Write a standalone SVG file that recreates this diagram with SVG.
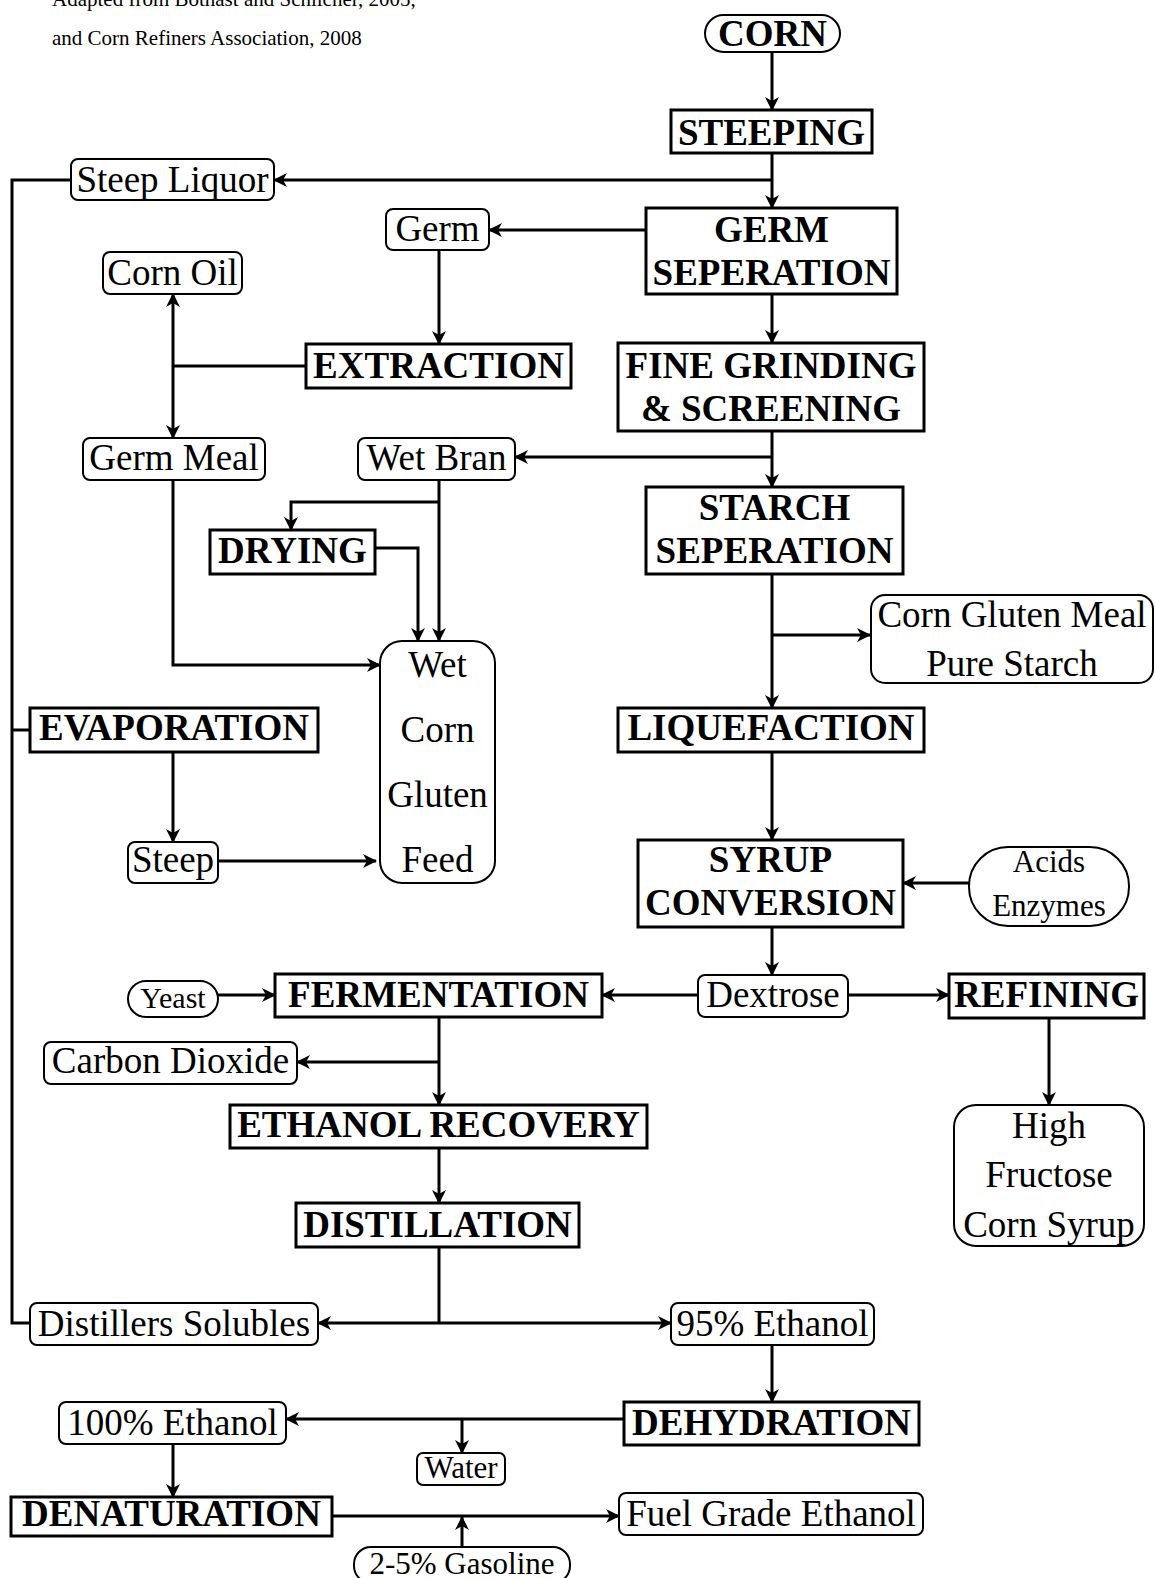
<svg xmlns="http://www.w3.org/2000/svg" width="1155" height="1578" viewBox="0 0 1155 1578">
<style>
text{font-family:"Liberation Serif","Times New Roman",serif;fill:#000;text-anchor:middle}
.b{font-size:37px;font-weight:bold}
.r{font-size:37px}
.s{font-size:31px}
.h{font-size:21px;text-anchor:start}
.proc{fill:#fff;stroke:#000;stroke-width:3}
.term{fill:#fff;stroke:#000;stroke-width:2}
.ln{fill:none;stroke:#000;stroke-width:3}
.a{marker-end:url(#arr)}
</style>
<defs>
<marker id="arr" markerUnits="userSpaceOnUse" markerWidth="14" markerHeight="14" refX="13" refY="7" orient="auto">
<path d="M0,0 L14,7 L0,14 L4,7 Z" fill="#000"/>
</marker>
</defs>
<rect width="1155" height="1578" fill="#fff"/>
<g id="header">
<text class="h" x="52" y="6">Adapted from Bothast and Schlicher, 2005,</text>
<text class="h" x="52" y="45">and Corn Refiners Association, 2008</text>
</g>
<g id="connectors">
<path class="ln a" d="M772,52 V110"/>
<path class="ln a" d="M772,153 V208"/>
<path class="ln a" d="M772,180 H274"/>
<path class="ln" d="M71,180 H12 V1323 H30"/>
<path class="ln" d="M12,730 H30"/>
<path class="ln a" d="M646,230 H489"/>
<path class="ln a" d="M439,250 V344"/>
<path class="ln" d="M306,366 H173"/>
<path class="ln a" d="M173,366 V294"/>
<path class="ln a" d="M173,366 V438"/>
<path class="ln a" d="M772,294 V343"/>
<path class="ln a" d="M772,431 V487"/>
<path class="ln a" d="M772,457 H515"/>
<path class="ln a" d="M439,480 V641"/>
<path class="ln a" d="M439,502 H291 V530"/>
<path class="ln a" d="M375,548 H418 V641"/>
<path class="ln a" d="M173,480 V665 H380"/>
<path class="ln a" d="M173,752 V842"/>
<path class="ln a" d="M218,861 H376"/>
<path class="ln a" d="M772,574 V708"/>
<path class="ln a" d="M772,635 H870"/>
<path class="ln a" d="M772,752 V840"/>
<path class="ln a" d="M969,883 H903"/>
<path class="ln a" d="M772,927 V975"/>
<path class="ln a" d="M698,995 H602"/>
<path class="ln a" d="M848,995 H949"/>
<path class="ln a" d="M1049,1018 V1105"/>
<path class="ln a" d="M218,995 H275"/>
<path class="ln a" d="M439,1017 V1105"/>
<path class="ln a" d="M439,1062 H297"/>
<path class="ln a" d="M439,1148 V1203"/>
<path class="ln" d="M439,1247 V1323"/>
<path class="ln a" d="M439,1323 H318"/>
<path class="ln a" d="M439,1323 H671"/>
<path class="ln a" d="M772,1345 V1402"/>
<path class="ln a" d="M624,1419 H286"/>
<path class="ln a" d="M462,1419 V1453"/>
<path class="ln a" d="M173,1444 V1497"/>
<path class="ln a" d="M332,1516 H619"/>
<path class="ln a" d="M462,1547 V1517"/>
</g>
<g id="corn"><rect class="term" x="705" y="15" width="135" height="37" rx="18.5"/><text class="b" x="772.5" y="46">CORN</text></g>
<g id="steeping"><rect class="proc" x="671" y="110" width="201" height="43"/><text class="b" x="771.5" y="145">STEEPING</text></g>
<g id="steep-liquor"><rect class="term" x="71" y="159" width="203" height="41" rx="7"/><text class="r" x="172.5" y="192">Steep Liquor</text></g>
<g id="germ-separation"><rect class="proc" x="646" y="208" width="251" height="86"/><text class="b" x="771.5" y="242">GERM</text><text class="b" x="771.5" y="285">SEPERATION</text></g>
<g id="germ"><rect class="term" x="386" y="209" width="103" height="41" rx="7"/><text class="r" x="437.5" y="241">Germ</text></g>
<g id="corn-oil"><rect class="term" x="103" y="252" width="139" height="42" rx="7"/><text class="r" x="172.5" y="285">Corn Oil</text></g>
<g id="extraction"><rect class="proc" x="306" y="344" width="265" height="44"/><text class="b" x="438.5" y="378">EXTRACTION</text></g>
<g id="fine-grinding"><rect class="proc" x="618" y="343" width="306" height="88"/><text class="b" x="771" y="378">FINE GRINDING</text><text class="b" x="771" y="421">&amp; SCREENING</text></g>
<g id="germ-meal"><rect class="term" x="83" y="438" width="182" height="42" rx="7"/><text class="r" x="174" y="470">Germ Meal</text></g>
<g id="wet-bran"><rect class="term" x="358" y="438" width="157" height="42" rx="7"/><text class="r" x="436.5" y="470">Wet Bran</text></g>
<g id="starch-separation"><rect class="proc" x="646" y="487" width="257" height="87"/><text class="b" x="774.5" y="520">STARCH</text><text class="b" x="774.5" y="563">SEPERATION</text></g>
<g id="drying"><rect class="proc" x="210" y="530" width="165" height="44"/><text class="b" x="292.5" y="563">DRYING</text></g>
<g id="wet-corn-gluten-feed"><rect class="term" x="380" y="641" width="115" height="242" rx="22"/><text class="r" x="437.5" y="677">Wet</text><text class="r" x="437.5" y="742">Corn</text><text class="r" x="437.5" y="807">Gluten</text><text class="r" x="437.5" y="872">Feed</text></g>
<g id="corn-gluten-meal"><rect class="term" x="871" y="595" width="282" height="88" rx="14"/><text class="r" x="1012" y="627">Corn Gluten Meal</text><text class="r" x="1012" y="676">Pure Starch</text></g>
<g id="evaporation"><rect class="proc" x="30" y="708" width="288" height="44"/><text class="b" x="174" y="740">EVAPORATION</text></g>
<g id="steep"><rect class="term" x="128" y="842" width="90" height="41" rx="7"/><text class="r" x="173" y="872">Steep</text></g>
<g id="liquefaction"><rect class="proc" x="618" y="708" width="306" height="44"/><text class="b" x="771" y="740">LIQUEFACTION</text></g>
<g id="syrup-conversion"><rect class="proc" x="638" y="840" width="265" height="87"/><text class="b" x="770.5" y="872">SYRUP</text><text class="b" x="770.5" y="915">CONVERSION</text></g>
<g id="acids-enzymes"><rect class="term" x="969" y="847" width="160" height="79" rx="39"/><text class="s" x="1049" y="872">Acids</text><text class="s" x="1049" y="916">Enzymes</text></g>
<g id="yeast"><rect class="term" x="128" y="981" width="90" height="36" rx="18"/><text class="s" x="173" y="1008" style="font-size:30px">Yeast</text></g>
<g id="fermentation"><rect class="proc" x="275" y="974" width="327" height="43"/><text class="b" x="438.5" y="1007">FERMENTATION</text></g>
<g id="dextrose"><rect class="term" x="698" y="975" width="150" height="42" rx="7"/><text class="r" x="773" y="1007">Dextrose</text></g>
<g id="refining"><rect class="proc" x="949" y="974" width="195" height="44"/><text class="b" x="1046.5" y="1007">REFINING</text></g>
<g id="carbon-dioxide"><rect class="term" x="44" y="1042" width="253" height="42" rx="7"/><text class="r" x="170.5" y="1073">Carbon Dioxide</text></g>
<g id="ethanol-recovery"><rect class="proc" x="230" y="1105" width="417" height="43"/><text class="b" x="438.5" y="1137">ETHANOL RECOVERY</text></g>
<g id="hfcs"><rect class="term" x="954" y="1105" width="190" height="141" rx="22"/><text class="r" x="1049" y="1138">High</text><text class="r" x="1049" y="1187">Fructose</text><text class="r" x="1049" y="1237">Corn Syrup</text></g>
<g id="distillation"><rect class="proc" x="296" y="1203" width="283" height="44"/><text class="b" x="437.5" y="1237">DISTILLATION</text></g>
<g id="distillers-solubles"><rect class="term" x="30" y="1303" width="288" height="42" rx="7"/><text class="r" x="174" y="1336">Distillers Solubles</text></g>
<g id="ethanol-95"><rect class="term" x="671" y="1303" width="203" height="42" rx="7"/><text class="r" x="772.5" y="1336">95% Ethanol</text></g>
<g id="dehydration"><rect class="proc" x="624" y="1402" width="295" height="43"/><text class="b" x="771.5" y="1435">DEHYDRATION</text></g>
<g id="ethanol-100"><rect class="term" x="59" y="1402" width="227" height="42" rx="7"/><text class="r" x="172.5" y="1435">100% Ethanol</text></g>
<g id="water"><rect class="term" x="417" y="1453" width="88" height="32" rx="6"/><text class="s" x="461" y="1478">Water</text></g>
<g id="denaturation"><rect class="proc" x="11" y="1497" width="321" height="39"/><text class="b" x="171.5" y="1526">DENATURATION</text></g>
<g id="fuel-grade-ethanol"><rect class="term" x="619" y="1493" width="304" height="42" rx="7"/><text class="r" x="771" y="1526">Fuel Grade Ethanol</text></g>
<g id="gasoline"><rect class="term" x="354" y="1547" width="216" height="36" rx="17"/><text class="s" x="462" y="1574">2-5% Gasoline</text></g>
</svg>
